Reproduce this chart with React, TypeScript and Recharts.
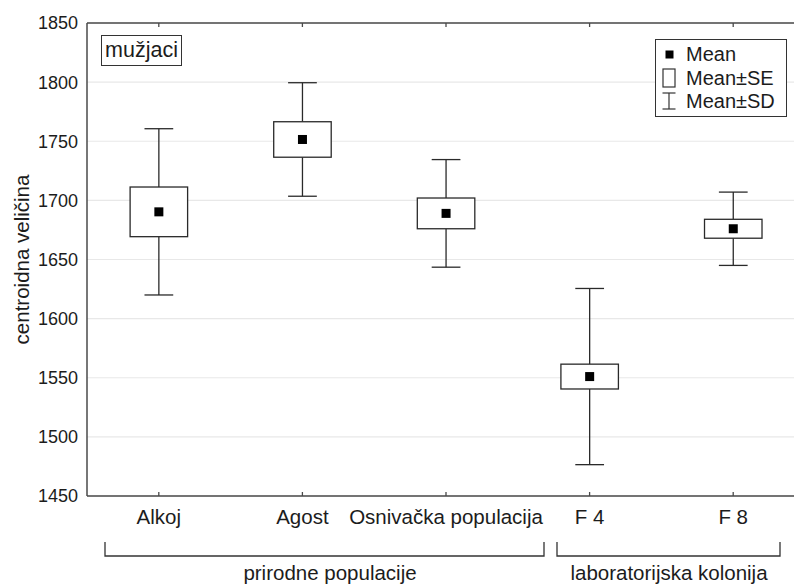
import React from 'react';
import {
  ComposedChart,
  Bar,
  XAxis,
  YAxis,
  CartesianGrid,
  Legend,
} from 'recharts';

// Group labels and summary statistics for male centroid size
const categories = ['Alkoj', 'Agost', 'Osnivačka populacija', 'F 4', 'F 8'];
const means = [1690.3, 1751.5, 1689, 1551, 1676];
const seHalf = [21, 15, 13, 10.5, 8];
const sdHalf = [70.3, 48, 45.5, 74.5, 31];
const yTicks = [1450, 1500, 1550, 1600, 1650, 1700, 1750, 1800, 1850];

const groupLabels = ['prirodne populacije', 'laboratorijska kolonija'];
const legendLabels = ['Mean', 'Mean±SE', 'Mean±SD'];

const data = categories.map((name, i) => ({
  name,
  mean: means[i],
  seLow: means[i] - seHalf[i],
  seHigh: means[i] + seHalf[i],
  sdLow: means[i] - sdHalf[i],
  sdHigh: means[i] + sdHalf[i],
  sdRange: [means[i] - sdHalf[i], means[i] + sdHalf[i]],
}));

const FONT = '"Liberation Sans", Arial, sans-serif';
const INK = '#1c1c1c';
const AXIS = '#4a4a4a';

// Whisker (±SD), box (±SE) and mean square drawn from the bar's SD span
const BoxShape = (props: any) => {
  const { x, y, width, height, payload } = props;
  const top = Math.min(y, y + height);
  const h = Math.abs(height);
  const k = h / (payload.sdHigh - payload.sdLow);
  const toY = (v: number) => top + (payload.sdHigh - v) * k;
  const cx = x + width / 2;
  const boxW = width * 0.5;
  const capW = width * 0.25;
  const m = 4.5;
  const seTop = toY(payload.seHigh);
  const seBot = toY(payload.seLow);
  const sdTop = toY(payload.sdHigh);
  const sdBot = toY(payload.sdLow);
  const my = toY(payload.mean);
  return (
    <g stroke="#2a2a2a" strokeWidth={1.3} fill="none">
      <line x1={cx} x2={cx} y1={sdTop} y2={seTop} />
      <line x1={cx} x2={cx} y1={seBot} y2={sdBot} />
      <line x1={cx - capW / 2} x2={cx + capW / 2} y1={sdTop} y2={sdTop} />
      <line x1={cx - capW / 2} x2={cx + capW / 2} y1={sdBot} y2={sdBot} />
      <rect x={cx - boxW / 2} y={seTop} width={boxW} height={seBot - seTop} fill="#fff" />
      <rect x={cx - m} y={my - m} width={m * 2} height={m * 2} fill="#000" stroke="none" />
    </g>
  );
};

const BottomTick = (props: any) => {
  const { x, y, payload } = props;
  return (
    <g>
      <line x1={x} x2={x} y1={y} y2={y - 4} stroke={AXIS} strokeWidth={1.3} />
      <text x={x} y={y + 28} textAnchor="middle" fontSize={20.5} fill={INK} fontFamily={FONT}>
        {payload.value}
      </text>
    </g>
  );
};

const TopTick = (props: any) => {
  const { x, y } = props;
  return <line x1={x} x2={x} y1={y} y2={y + 4} stroke={AXIS} strokeWidth={1.3} />;
};

const LegendBox = () => (
  <div
    style={{
      width: 132,
      height: 78,
      border: '1.3px solid #333',
      background: '#fff',
      boxSizing: 'border-box',
      padding: '3px 0 0 6px',
      fontFamily: FONT,
      fontSize: 20,
      color: INK,
      lineHeight: '23.5px',
    }}
  >
    {legendLabels.map((label, i) => (
      <div key={label} style={{ display: 'flex', alignItems: 'center', height: 23.5 }}>
        <svg width={15} height={21} style={{ marginRight: 9, flex: 'none' }}>
          {i === 0 && <rect x={3.5} y={6.5} width={8} height={8} fill="#000" />}
          {i === 1 && <rect x={1} y={1} width={12} height={18} fill="#fff" stroke="#333" strokeWidth={1.2} />}
          {i === 2 && (
            <g stroke="#333" strokeWidth={1.2}>
              <line x1={0.5} x2={13.5} y1={2} y2={2} />
              <line x1={7} x2={7} y1={2} y2={18} />
              <line x1={0.5} x2={13.5} y1={18} y2={18} />
            </g>
          )}
        </svg>
        <span style={{ whiteSpace: 'nowrap' }}>{label}</span>
      </div>
    ))}
  </div>
);

const YLabel = (props: any) => {
  const vb = props.viewBox || {};
  const cy = (vb.y || 0) + (vb.height || 0) / 2;
  const x = 21;
  return (
    <text
      x={x}
      y={cy}
      transform={`rotate(-90, ${x}, ${cy})`}
      textAnchor="middle"
      dominantBaseline="central"
      fontSize={20.5}
      fill={INK}
      fontFamily={FONT}
    >
      centroidna veličina
    </text>
  );
};

export default function App() {
  return (
    <div
      style={{
        position: 'absolute',
        left: 0,
        top: 0,
        width: 794,
        height: 586,
        overflow: 'hidden',
        background: '#fff',
        fontFamily: FONT,
      }}
    >
      <ComposedChart
        width={810}
        height={586}
        data={data}
        margin={{ top: 22, right: 5, left: 0, bottom: 60 }}
      >
        <CartesianGrid vertical={false} stroke="#e8e8e8" strokeWidth={1.2} />
        <XAxis
          dataKey="name"
          xAxisId="top"
          orientation="top"
          height={1}
          tickSize={0}
          tickMargin={0}
          axisLine={{ stroke: AXIS, strokeWidth: 1.5 }}
          tickLine={false}
          tick={<TopTick />}
        />
        <XAxis
          dataKey="name"
          height={30}
          tickSize={0}
          tickMargin={0}
          axisLine={{ stroke: AXIS, strokeWidth: 1.5 }}
          tickLine={false}
          tick={<BottomTick />}
          interval={0}
        />
        <YAxis
          type="number"
          domain={[1450, 1850]}
          ticks={yTicks}
          width={87}
          tickLine={false}
          tickSize={0}
          tickMargin={9}
          axisLine={{ stroke: AXIS, strokeWidth: 1.5 }}
          tick={{ fontSize: 18, fill: INK, fontFamily: FONT }}
          label={<YLabel />}
          allowDataOverflow
        />
        <Legend
          layout="vertical"
          align="center"
          verticalAlign="middle"
          content={<LegendBox />}
          wrapperStyle={{ position: 'absolute', left: 655, top: 39, width: 132, height: 78 }}
        />
        <Bar dataKey="sdRange" fill="none" shape={<BoxShape />} isAnimationActive={false} />
      </ComposedChart>

      {/* sex label */}
      <div
        style={{
          position: 'absolute',
          left: 101,
          top: 35,
          width: 81,
          height: 31,
          boxSizing: 'border-box',
          border: '1.3px solid #333',
          fontSize: 21.5,
          color: INK,
          textAlign: 'center',
          lineHeight: '28px',
          whiteSpace: 'nowrap',
        }}
      >
        mužjaci
      </div>

      {/* group brackets below the category axis */}
      <svg
        width={794}
        height={586}
        style={{ position: 'absolute', left: 0, top: 0, pointerEvents: 'none' }}
      >
        <g stroke="#333" strokeWidth={1.3} fill="none">
          <polyline points="105,542 105,556 544,556 544,542" />
          <polyline points="557,542 557,556 780,556 780,542" />
        </g>
        <text x={330} y={580} textAnchor="middle" fontSize={20.5} fill={INK} fontFamily={FONT}>
          {groupLabels[0]}
        </text>
        <text x={669} y={580} textAnchor="middle" fontSize={20.5} fill={INK} fontFamily={FONT}>
          {groupLabels[1]}
        </text>
      </svg>
    </div>
  );
}
